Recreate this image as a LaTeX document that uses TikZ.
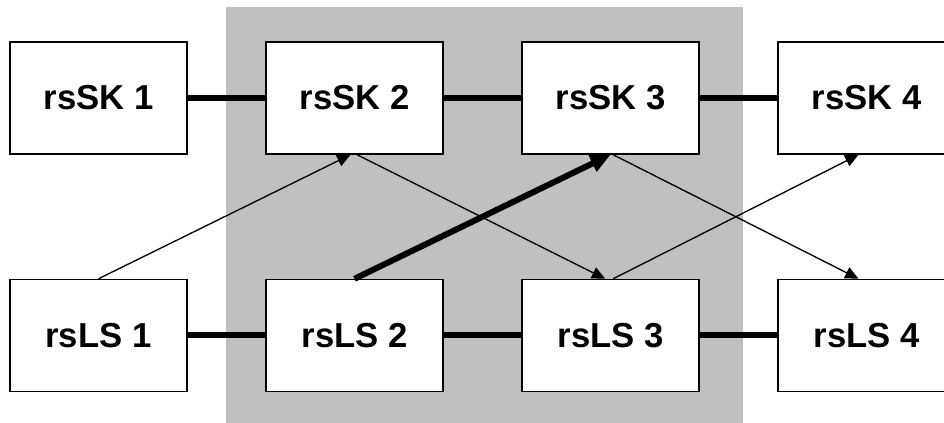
\documentclass[tikz,border=0pt]{standalone}
\usepackage{fontspec}
\setmainfont{Liberation Sans}
\usepackage{xcolor}
\usetikzlibrary{arrows.meta}
\definecolor{zonegrey}{RGB}{192,192,192}
\tikzset{
    rsbox/.style={draw=black, fill=white, line width=1.1pt, minimum width=132.75pt, minimum height=84pt,
        font=\fontsize{26}{30}\selectfont\bfseries},
    link/.style={black, line width=4.5pt},
    thinarrow/.style={-{Triangle[length=10pt,width=9pt]}, black, line width=1pt},
    thickarrow/.style={-{Triangle[length=15pt,width=13pt]}, black, line width=4.5pt}
}
\begin{document}
\begin{tikzpicture}[x=0.75pt, y=0.75pt]
                \useasboundingbox (0,0) rectangle (944,423);
                \fill[zonegrey](226,0) rectangle (743,416);
                % upper row
                \node[rsbox] (sk1) at (98.5,325) {rsSK 1};
                \node[rsbox] (sk2) at (354.5,325) {rsSK 2};
                \node[rsbox] (sk3) at (610.5,325) {rsSK 3};
                \node[rsbox] (sk4) at (866.5,325) {rsSK 4};
                % lower row
                \node[rsbox] (ls1) at (98.5,87.5) {rsLS 1};
                \node[rsbox] (ls2) at (354.5,87.5) {rsLS 2};
                \node[rsbox] (ls3) at (610.5,87.5) {rsLS 3};
                \node[rsbox] (ls4) at (866.5,87.5) {rsLS 4};
                \draw [link](sk1) to(sk2);
                \draw [link](sk2) to(sk3);
                \draw [link](sk3) to(sk4);
                \draw [link](ls1) to(ls2);
                \draw [link](ls2) to(ls3);
                \draw [link](ls3) to(ls4);
                \draw [thinarrow](ls1.north) to([xshift=-3pt]sk2.south);
                \draw [thinarrow]([xshift=2pt]sk2.south) to([xshift=-4pt]ls3.north);
                \draw [thinarrow]([xshift=2pt]ls3.north) to([xshift=-6pt]sk4.south);
                \draw [thinarrow]([xshift=2pt]sk3.south) to([xshift=-6pt]ls4.north);
                \draw [thickarrow](ls2.north) to(sk3.south);
            \end{tikzpicture}
\end{document}
